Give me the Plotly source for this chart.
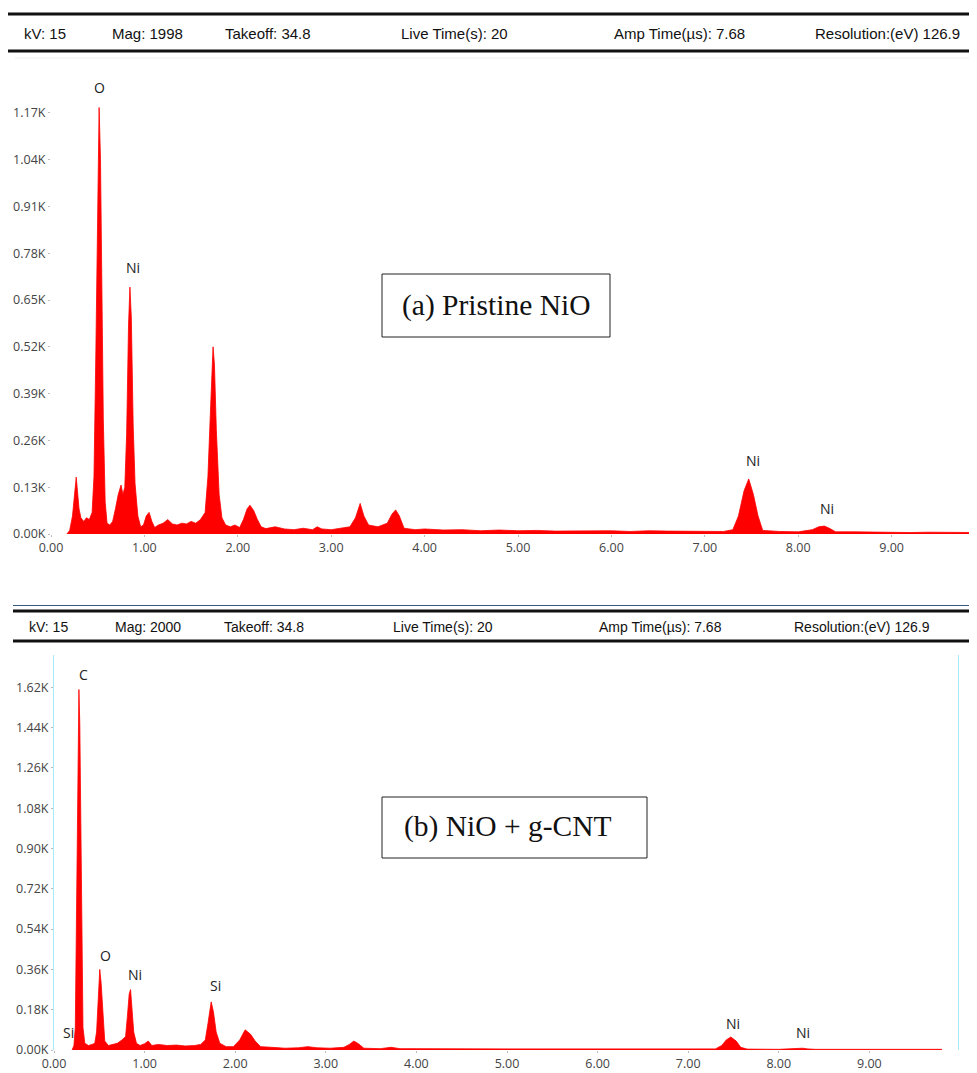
import plotly.graph_objects as go

# ---------------- data ----------------
# (a) Pristine NiO spectrum: energy (keV) and counts (K)
a_energy = [0.17, 0.20, 0.23, 0.25, 0.27, 0.28, 0.30, 0.32, 0.35, 0.38,
            0.41, 0.44, 0.46, 0.48, 0.50, 0.515, 0.53, 0.545, 0.56, 0.58,
            0.60, 0.63, 0.66, 0.69, 0.72, 0.75, 0.77, 0.79, 0.81, 0.83,
            0.845, 0.86, 0.88, 0.90, 0.93, 0.96, 0.99, 1.02, 1.05, 1.08,
            1.11, 1.15, 1.20, 1.25, 1.30, 1.35, 1.40, 1.45, 1.50, 1.55,
            1.60, 1.65, 1.68, 1.71, 1.735, 1.75, 1.77, 1.80, 1.83, 1.87,
            1.92, 1.97, 2.02, 2.06, 2.10, 2.13, 2.17, 2.21, 2.25, 2.30,
            2.40, 2.50, 2.60, 2.70, 2.80, 2.85, 2.90, 3.00, 3.10, 3.20,
            3.26, 3.31, 3.35, 3.40, 3.50, 3.60, 3.65, 3.69, 3.73, 3.78,
            3.90, 4.00, 4.20, 4.40, 4.60, 4.80, 5.00, 5.20, 5.40, 5.60,
            5.80, 6.00, 6.20, 6.40, 6.60, 6.80, 7.00, 7.20, 7.30, 7.36,
            7.42, 7.47, 7.52, 7.57, 7.62, 7.80, 8.00, 8.15, 8.22, 8.28,
            8.34, 8.40, 8.60, 8.80, 9.00, 9.20, 9.40, 9.60, 9.91]
a_counts = [0.000, 0.010, 0.050, 0.110, 0.158, 0.130, 0.070, 0.045, 0.035, 0.045,
            0.040, 0.060, 0.160, 0.500, 1.000, 1.185, 1.040, 0.720, 0.320, 0.090,
            0.030, 0.025, 0.035, 0.070, 0.110, 0.136, 0.110, 0.130, 0.280, 0.580,
            0.686, 0.600, 0.300, 0.140, 0.050, 0.020, 0.025, 0.050, 0.060, 0.035,
            0.018, 0.025, 0.030, 0.040, 0.028, 0.025, 0.030, 0.028, 0.035, 0.030,
            0.040, 0.060, 0.160, 0.360, 0.520, 0.470, 0.290, 0.110, 0.045, 0.025,
            0.020, 0.025, 0.018, 0.040, 0.070, 0.080, 0.065, 0.040, 0.020, 0.015,
            0.020, 0.014, 0.012, 0.016, 0.012, 0.020, 0.014, 0.012, 0.015, 0.020,
            0.045, 0.085, 0.050, 0.025, 0.020, 0.030, 0.055, 0.067, 0.050, 0.016,
            0.012, 0.014, 0.011, 0.012, 0.009, 0.011, 0.009, 0.010, 0.008, 0.009,
            0.008, 0.009, 0.007, 0.009, 0.008, 0.007, 0.008, 0.007, 0.012, 0.050,
            0.120, 0.153, 0.110, 0.050, 0.010, 0.007, 0.006, 0.012, 0.020, 0.022,
            0.015, 0.006, 0.006, 0.005, 0.006, 0.004, 0.005, 0.004, 0.004]

# (b) NiO + g-CNT spectrum
b_energy = [0.20, 0.22, 0.235, 0.25, 0.265, 0.275, 0.285, 0.295, 0.305, 0.32,
            0.34, 0.38, 0.42, 0.45, 0.47, 0.49, 0.505, 0.52, 0.54, 0.56,
            0.60, 0.65, 0.70, 0.75, 0.79, 0.81, 0.83, 0.845, 0.86, 0.88,
            0.91, 0.95, 1.00, 1.04, 1.08, 1.15, 1.25, 1.35, 1.45, 1.55,
            1.62, 1.67, 1.70, 1.735, 1.76, 1.79, 1.83, 1.90, 1.98, 2.05,
            2.11, 2.17, 2.22, 2.28, 2.40, 2.55, 2.70, 2.80, 2.90, 3.05,
            3.20, 3.26, 3.31, 3.36, 3.42, 3.60, 3.72, 3.82, 4.00, 4.30,
            4.60, 5.00, 5.40, 5.80, 6.20, 6.60, 7.00, 7.30, 7.37, 7.42,
            7.47, 7.53, 7.58, 7.65, 8.00, 8.20, 8.26, 8.32, 8.40, 9.00,
            9.50, 9.80]
b_counts = [0.000, 0.020, 0.100, 0.600, 1.100, 1.610, 1.450, 0.950, 0.450, 0.100,
            0.030, 0.020, 0.025, 0.030, 0.080, 0.250, 0.360, 0.300, 0.140, 0.040,
            0.020, 0.025, 0.030, 0.045, 0.060, 0.150, 0.250, 0.270, 0.200, 0.080,
            0.030, 0.020, 0.028, 0.040, 0.020, 0.025, 0.020, 0.022, 0.018, 0.020,
            0.025, 0.045, 0.120, 0.215, 0.170, 0.080, 0.030, 0.015, 0.015, 0.045,
            0.090, 0.070, 0.040, 0.015, 0.012, 0.008, 0.010, 0.015, 0.010, 0.008,
            0.012, 0.025, 0.040, 0.028, 0.008, 0.006, 0.012, 0.006, 0.006, 0.005,
            0.006, 0.005, 0.005, 0.004, 0.006, 0.005, 0.005, 0.005, 0.020, 0.045,
            0.058, 0.040, 0.012, 0.004, 0.003, 0.005, 0.008, 0.005, 0.003, 0.003,
            0.003, 0.003]

# peak labels: element, energy (keV), label height (K)
a_labels = ["O", "Ni", "Ni", "Ni"]
a_label_x = [0.52, 0.88, 7.52, 8.31]
a_label_y = [1.24, 0.74, 0.205, 0.07]

b_labels = ["C", "Si", "O", "Ni", "Si", "Ni", "Ni"]
b_label_x = [0.33, 0.16, 0.57, 0.89, 1.78, 7.49, 8.27]
b_label_y = [1.675, 0.076, 0.424, 0.335, 0.29, 0.12, 0.076]

# tick values / labels
x_ticks = [0, 1, 2, 3, 4, 5, 6, 7, 8, 9]
x_ticktext = ["0.00", "1.00", "2.00", "3.00", "4.00", "5.00", "6.00", "7.00", "8.00", "9.00"]
a_yticks = [0.0, 0.13, 0.26, 0.39, 0.52, 0.65, 0.78, 0.91, 1.04, 1.17]
a_yticktext = ["0.00K", "0.13K", "0.26K", "0.39K", "0.52K", "0.65K", "0.78K", "0.91K", "1.04K", "1.17K"]
b_yticks = [0.0, 0.18, 0.36, 0.54, 0.72, 0.90, 1.08, 1.26, 1.44, 1.62]
b_yticktext = ["0.00K", "0.18K", "0.36K", "0.54K", "0.72K", "0.90K", "1.08K", "1.26K", "1.44K", "1.62K"]

# header texts
a_header = ["kV: 15", "Mag: 1998", "Takeoff: 34.8", "Live Time(s): 20",
            "Amp Time(µs): 7.68", "Resolution:(eV) 126.9"]
b_header = ["kV: 15", "Mag: 2000", "Takeoff: 34.8", "Live Time(s): 20",
            "Amp Time(µs): 7.68", "Resolution:(eV) 126.9"]

panel_titles = ["(a) Pristine NiO", "(b) NiO + g-CNT"]

# ---------------- layout helpers ----------------
# the page body adds an 8px offset, so the figure is 8px smaller and
# reference pixel positions are shifted by 8px
OFF = 8
W, H = 977 - OFF, 1073 - OFF


def px(x):
    return (x - OFF) / W


def py(y):
    return 1 - (y - OFF) / H


RED = "#ff0000"
TICKFONT = dict(family="Open Sans, Noto Sans, sans-serif", size=12.5, color="#444444")
LABELFONT = dict(family="Open Sans, Noto Sans, sans-serif", size=14, color="#222222")
HEADFONT = "Liberation Sans, Arial, sans-serif"
SERIF = "Liberation Serif, Times New Roman, serif"

fig = go.Figure()
fig.add_trace(go.Scatter(x=a_energy, y=a_counts, mode="lines", fill="tozeroy",
                         line=dict(color=RED, width=0.8), fillcolor=RED,
                         xaxis="x", yaxis="y", hoverinfo="skip"))
fig.add_trace(go.Scatter(x=b_energy, y=b_counts, mode="lines", fill="tozeroy",
                         line=dict(color=RED, width=0.8), fillcolor=RED,
                         xaxis="x2", yaxis="y2", hoverinfo="skip"))

common_x = dict(tickvals=x_ticks, ticktext=x_ticktext, showgrid=False, zeroline=False,
                ticks="outside", ticklen=2, tickcolor="#bbbbbb", tickfont=TICKFONT,
                automargin=False, fixedrange=True)
common_y = dict(showgrid=False, zeroline=False, ticks="outside", ticklen=2,
                tickcolor="#bbbbbb", tickfont=TICKFONT, automargin=False, fixedrange=True)

layout = dict(
    width=W, height=H,
    margin=dict(l=0, r=0, t=0, b=0),
    paper_bgcolor="white", plot_bgcolor="white",
    showlegend=False,
    xaxis=dict(domain=[px(51), 1.0], range=[0, 9.914], anchor="y", showline=False, **common_x),
    yaxis=dict(domain=[py(534), py(65)], range=[0, 1.303], anchor="x",
               tickvals=a_yticks, ticktext=a_yticktext, showline=False, **common_y),
    xaxis2=dict(domain=[px(54), px(958)], range=[0, 9.978], anchor="y2", showline=False, **common_x),
    yaxis2=dict(domain=[py(1050), py(655)], range=[0, 1.764], anchor="x2",
                tickvals=b_yticks, ticktext=b_yticktext, showline=True, mirror=True,
                linecolor="#a6ecf8", linewidth=1, **common_y),
)

shapes = []
# header lines (a)
for yy in (14, 51):
    shapes.append(dict(type="line", xref="paper", yref="paper", x0=0.0, x1=1.0,
                       y0=py(yy), y1=py(yy), line=dict(color="#111111", width=3)))
shapes.append(dict(type="line", xref="paper", yref="paper", x0=px(15), x1=1.0,
                   y0=py(58), y1=py(58), line=dict(color="#eeeeee", width=1)))
# header lines (b)
shapes.append(dict(type="line", xref="paper", yref="paper", x0=px(13), x1=1.0,
                   y0=py(605.5), y1=py(605.5), line=dict(color="#3a5a80", width=1)))
for yy in (611, 641):
    shapes.append(dict(type="line", xref="paper", yref="paper", x0=px(13), x1=1.0,
                       y0=py(yy), y1=py(yy), line=dict(color="#111111", width=3)))
# panel title boxes
shapes.append(dict(type="rect", xref="paper", yref="paper", x0=px(382), x1=px(610),
                   y0=py(337), y1=py(274), line=dict(color="#222222", width=1)))
shapes.append(dict(type="rect", xref="paper", yref="paper", x0=px(382), x1=px(647),
                   y0=py(858), y1=py(797), line=dict(color="#222222", width=1)))
layout["shapes"] = shapes

ann = []
a_head_x = [22, 110, 223, 399, 612, 813]
b_head_x = [27, 113, 222, 391, 597, 792]
for t, xx in zip(a_header, a_head_x):
    ann.append(dict(text=t, x=px(xx), y=py(33), xref="paper", yref="paper",
                    xanchor="left", yanchor="middle", showarrow=False,
                    font=dict(family=HEADFONT, size=15, color="#111111")))
for t, xx in zip(b_header, b_head_x):
    ann.append(dict(text=t, x=px(xx), y=py(627), xref="paper", yref="paper",
                    xanchor="left", yanchor="middle", showarrow=False,
                    font=dict(family=HEADFONT, size=14, color="#111111")))
for t, xx, yy in zip(a_labels, a_label_x, a_label_y):
    ann.append(dict(text=t, x=xx, y=yy, xref="x", yref="y", showarrow=False,
                    xanchor="center", yanchor="middle", font=LABELFONT))
for t, xx, yy in zip(b_labels, b_label_x, b_label_y):
    ann.append(dict(text=t, x=xx, y=yy, xref="x2", yref="y2", showarrow=False,
                    xanchor="center", yanchor="middle", font=LABELFONT))
ann.append(dict(text=panel_titles[0], x=px(496), y=py(305), xref="paper", yref="paper",
                xanchor="center", yanchor="middle", showarrow=False,
                font=dict(family=SERIF, size=29.5, color="#111111")))
ann.append(dict(text=panel_titles[1], x=px(402), y=py(826), xref="paper", yref="paper",
                xanchor="left", yanchor="middle", showarrow=False,
                font=dict(family=SERIF, size=29.5, color="#111111")))
layout["annotations"] = ann

fig.update_layout(**layout)
fig.write_html("out.html", config={"displayModeBar": False})
